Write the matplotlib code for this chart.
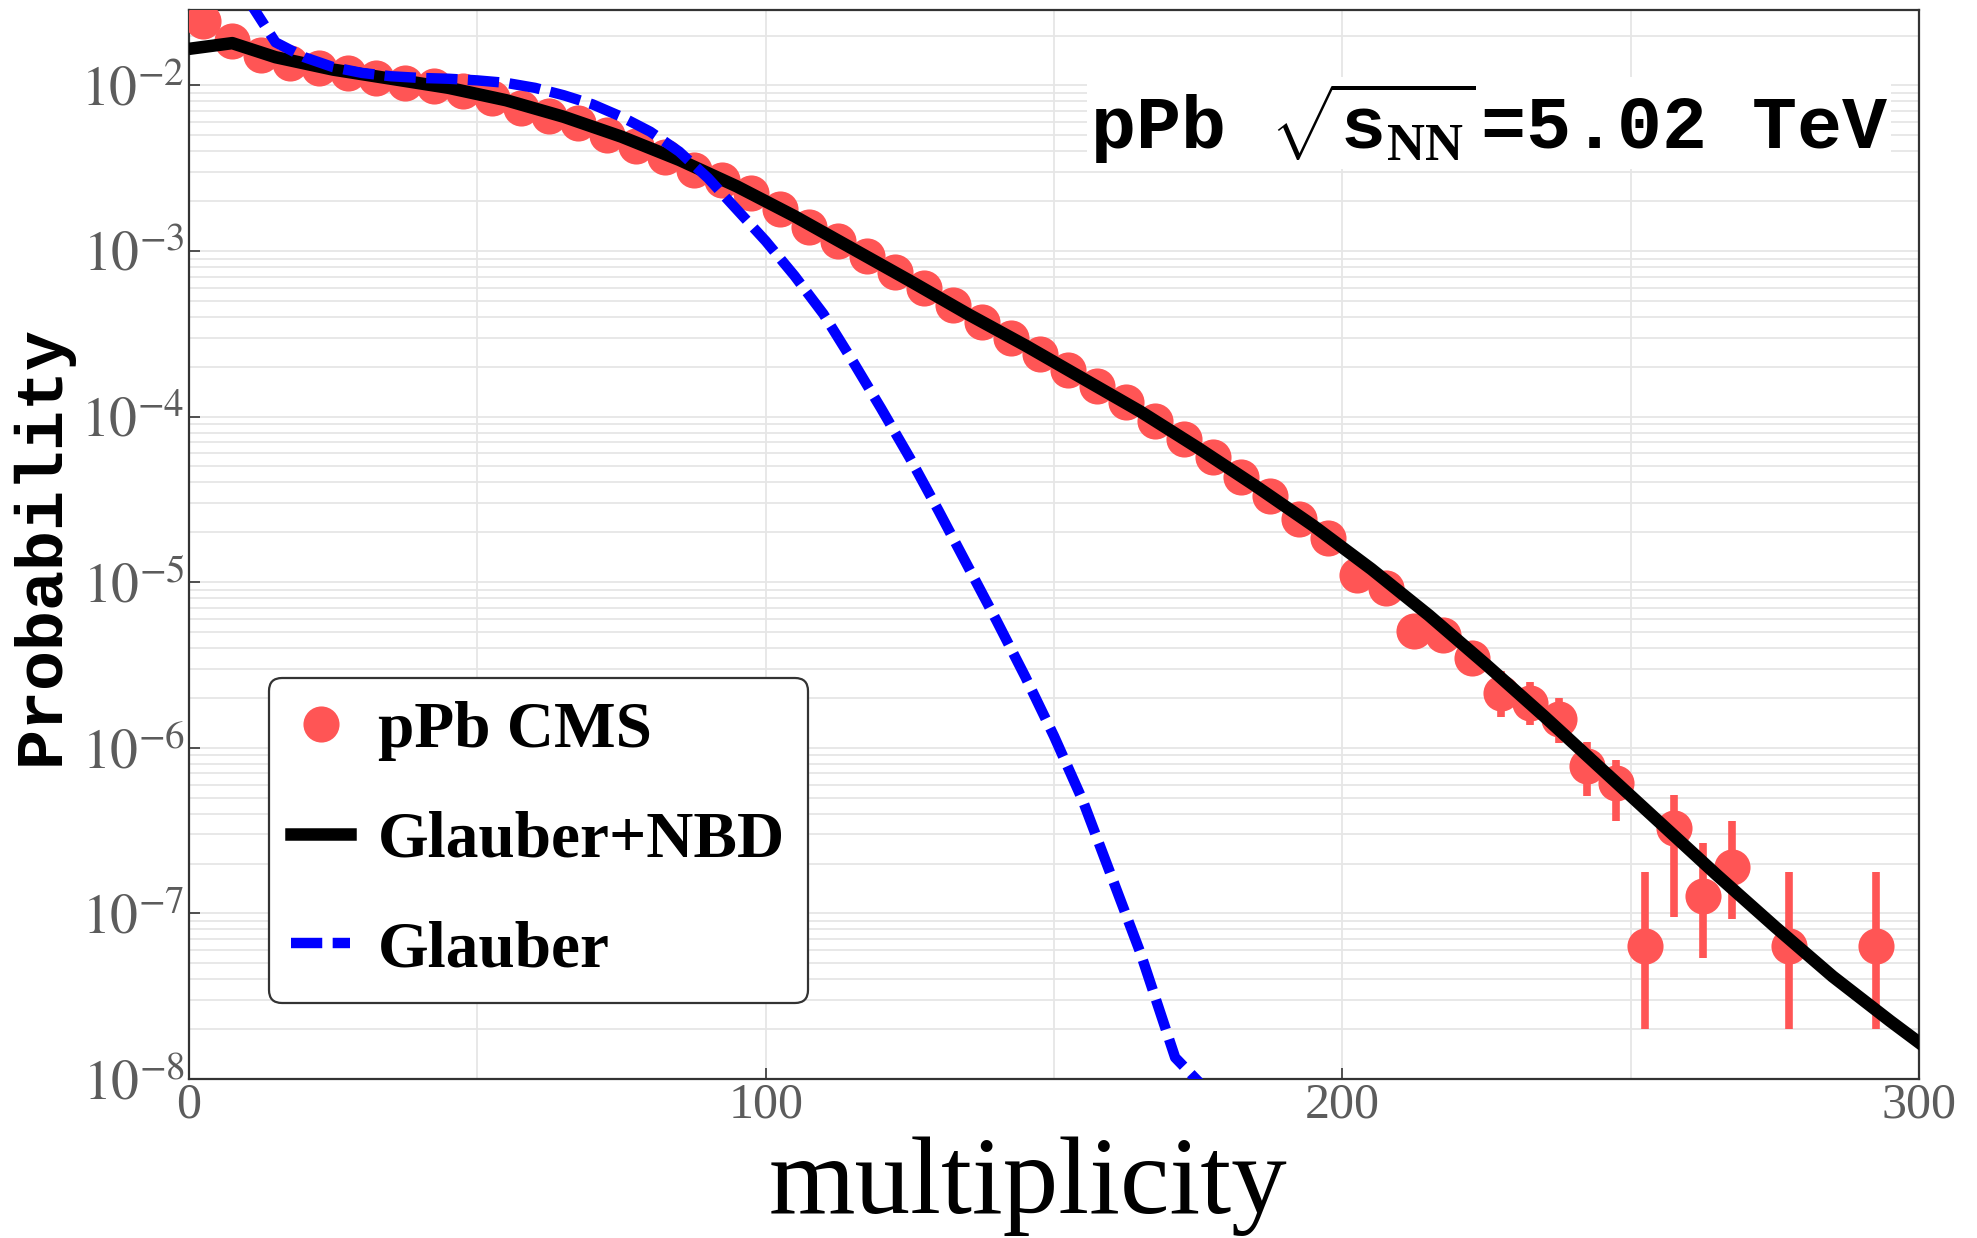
import matplotlib
matplotlib.use('Agg')
import matplotlib.pyplot as plt
import numpy as np
from matplotlib.ticker import FixedLocator, FuncFormatter, NullFormatter

plt.rcParams['mathtext.fontset'] = 'stix'
plt.rcParams['mathtext.rm'] = 'Liberation Mono:bold'
plt.rcParams['mathtext.it'] = 'Liberation Mono:bold'
plt.rcParams['mathtext.bf'] = 'Liberation Serif:bold'
plt.rcParams['font.family'] = ['Liberation Serif', 'DejaVu Serif']

# ---------------- data ----------------
cms_x = [2.5, 7.5, 12.5, 17.5, 22.5, 27.5, 32.5, 37.5, 42.5, 47.5,
         52.5, 57.5, 62.5, 67.5, 72.5, 77.5, 82.5, 87.5, 92.5, 97.5,
         102.5, 107.5, 112.5, 117.5, 122.5, 127.5, 132.5, 137.5, 142.5, 147.5,
         152.5, 157.5, 162.5, 167.5, 172.5, 177.5, 182.5, 187.5, 192.5, 197.5,
         202.5, 207.5, 212.5, 217.5, 222.5, 227.5, 232.5, 237.5, 242.5, 247.5,
         252.5, 257.5, 262.5, 267.5, 277.5, 292.5]
cms_p = [0.0245, 0.0184, 0.0153, 0.0136, 0.0127, 0.0119, 0.0111, 0.0103, 0.0099, 0.0092,
         0.0084, 0.0073, 0.0065, 0.0059, 0.0050, 0.0043, 0.0037, 0.0031, 0.0027, 0.00225,
         0.00178, 0.00140, 0.00115, 0.00093, 0.00075, 0.00060, 0.00047, 0.00037, 0.00030, 0.00024,
         1.9e-4, 1.52e-4, 1.22e-4, 9.4e-5, 7.3e-5, 5.7e-5, 4.3e-5, 3.3e-5, 2.4e-5, 1.85e-5,
         1.11e-5, 9.2e-6, 5.1e-6, 4.8e-6, 3.5e-6, 2.13e-6, 1.87e-6, 1.5e-6, 7.8e-7, 6.1e-7,
         6.4e-8, 3.3e-7, 1.28e-7, 1.9e-7, 6.4e-8, 6.4e-8]

err_x = [227.5, 232.5, 237.5, 242.5, 247.5, 252.5, 257.5, 262.5, 267.5, 277.5, 292.5]
err_lo = [1.54e-6, 1.38e-6, 1.07e-6, 5.1e-7, 3.6e-7, 2.0e-8, 9.5e-8, 5.4e-8, 9.3e-8, 2.0e-8, 2.0e-8]
err_hi = [2.9e-6, 2.5e-6, 2.0e-6, 1.08e-6, 8.5e-7, 1.77e-7, 5.2e-7, 2.65e-7, 3.6e-7, 1.77e-7, 1.77e-7]

nbd_x = [1, 7.5, 15, 25, 35, 45, 55, 65, 75, 85, 95, 105, 115, 125, 135, 145,
         155, 165, 175, 185, 195, 205, 215, 225, 235, 245, 255, 265, 275, 285, 295, 300]
nbd_logp = [-1.775, -1.745, -1.83, -1.905, -1.96, -2.015, -2.09, -2.19, -2.31, -2.45,
            -2.61, -2.79, -2.985, -3.18, -3.38, -3.57, -3.77, -3.97, -4.19, -4.42,
            -4.66, -4.92, -5.20, -5.50, -5.81, -6.13, -6.45, -6.77, -7.08, -7.38, -7.65, -7.78]

gl_x = [5, 15, 20, 25, 30, 35, 40, 45, 50, 55, 60, 65, 70, 75, 80, 85, 90, 95,
        100, 105, 110, 115, 120, 125, 130, 135, 140, 145, 150, 155, 160, 165, 171, 176]
gl_logp = [-1.2, -1.74, -1.83, -1.89, -1.925, -1.945, -1.955, -1.96, -1.97, -1.985,
           -2.015, -2.06, -2.115, -2.19, -2.28, -2.40, -2.56, -2.75,
           -2.94, -3.15, -3.38, -3.66, -3.95, -4.25, -4.57, -4.90, -5.23, -5.57,
           -5.93, -6.32, -6.78, -7.24, -7.87, -8.05]

xticks = [0, 100, 200, 300]
xminor = [50, 150, 250]
yexp = [-8, -7, -6, -5, -4, -3, -2]

legend_labels = ['pPb CMS', 'Glauber+NBD', 'Glauber']

# ---------------- figure ----------------
fig = plt.figure(figsize=(19.77, 12.38), dpi=100)
ax = fig.add_axes([0.0956, 0.1284, 0.8751, 0.8635])
ax.set_yscale('log')
ax.set_xlim(0, 300)
ax.set_ylim(1e-8, 0.0285)

red = '#FF5555'
nbd_p = [10 ** v for v in nbd_logp]
gl_p = [10 ** v for v in gl_logp]

ax.vlines(err_x, err_lo, err_hi, color=red, lw=5.5, zorder=3)
ax.plot(cms_x, cms_p, 'o', color=red, ms=26, mec='none', zorder=3, label=legend_labels[0])
ax.plot(nbd_x, nbd_p, color='black', lw=9, zorder=4, label=legend_labels[1])
ax.plot(gl_x, gl_p, color='#0000FF', lw=7.5, dashes=(3.0, 1.0), zorder=5, label=legend_labels[2])

# ticks / grid
ax.xaxis.set_major_locator(FixedLocator(xticks))
ax.xaxis.set_minor_locator(FixedLocator(xminor))
ax.yaxis.set_major_locator(FixedLocator([10.0 ** e for e in yexp]))
ax.yaxis.set_minor_locator(FixedLocator([m * 10.0 ** e for e in range(-8, -1) for m in range(2, 10)]))
ax.yaxis.set_major_formatter(FuncFormatter(lambda v, p: r'$10^{%d}$' % int(round(np.log10(v)))))
ax.yaxis.set_minor_formatter(NullFormatter())
ax.xaxis.set_minor_formatter(NullFormatter())

ax.grid(True, which='both', color='#e6e6e6', lw=1.3)
ax.set_axisbelow(True)

ax.tick_params(which='major', direction='in', length=8, width=1.3, color='#444444',
               labelcolor='#5c5c5c')
ax.tick_params(which='minor', length=0)
ax.tick_params(axis='y', which='major', labelsize=40, pad=3)
ax.tick_params(axis='x', which='major', labelsize=36, pad=2)

for s in ax.spines.values():
    s.set_color('#333333')
    s.set_linewidth(1.6)

# labels
ax.set_xlabel('multiplicity', family='Liberation Serif', size=80, color='black')
ax.xaxis.set_label_coords(0.485, -0.054)
ax.set_ylabel('Probability', family='Liberation Mono', weight='bold', size=48, color='black')
ax.yaxis.set_label_coords(-0.067, 0.5)

# annotation
ax.text(0.982, 0.870, r'pPb $\sqrt{\mathrm{s}_{\mathbf{NN}}}\,$=5.02 TeV', transform=ax.transAxes,
        ha='right', va='baseline', family='Liberation Mono', weight='bold', size=54,
        math_fontfamily='custom',
        bbox=dict(facecolor='white', edgecolor='none', pad=2), zorder=6)

# legend
leg = ax.legend(loc='lower left', bbox_to_anchor=(0.046, 0.071), borderaxespad=0,
                prop={'family': 'Liberation Serif', 'weight': 'bold', 'size': 47},
                frameon=True, fancybox=True, framealpha=1, edgecolor='#333333',
                handlelength=0.9, labelspacing=0.76, borderpad=0.35, handletextpad=0.42)
leg.get_frame().set_linewidth(1.6)
leg.set_zorder(10)

fig.savefig('out.png', dpi=100)
